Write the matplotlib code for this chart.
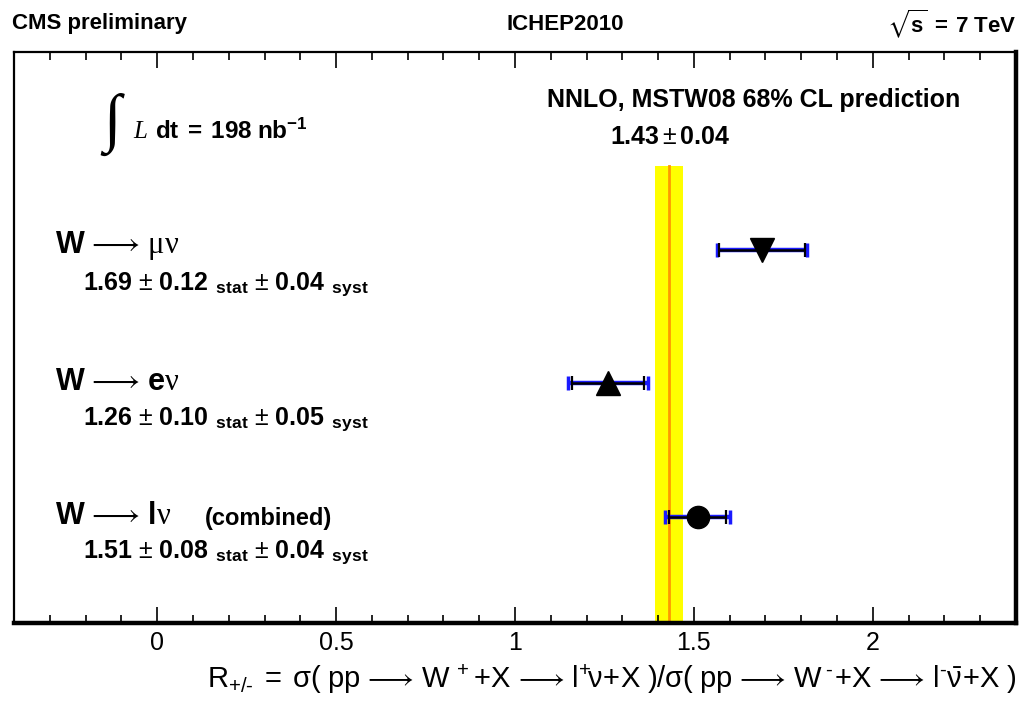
import numpy as np
import matplotlib
matplotlib.use("Agg")
import matplotlib.pyplot as plt

plt.rcParams["font.family"] = ["Liberation Sans", "DejaVu Sans"]
plt.rcParams["mathtext.fontset"] = "custom"
plt.rcParams["mathtext.rm"] = "Liberation Sans"
plt.rcParams["mathtext.it"] = "Liberation Serif:italic"
plt.rcParams["mathtext.bf"] = "Liberation Sans:bold"
plt.rcParams["mathtext.sf"] = "Liberation Serif"
plt.rcParams["mathtext.fallback"] = "stix"

# W+/W- cross-section ratio measurements
channels = ["mu", "e", "combined"]
ratio = [1.69, 1.26, 1.51]
err_stat = [0.12, 0.10, 0.08]
err_syst = [0.04, 0.05, 0.04]
ypos = [0.653, 0.420, 0.186]
markers = ["v", "^", "o"]
marker_sizes = [17, 17, 16]

# NNLO MSTW08 prediction
pred_central = 1.43
pred_err = 0.04

W, H = 1027, 703
fig = plt.figure(figsize=(W / 100, H / 100), dpi=100)
ax = fig.add_axes([14 / W, 1 - 623 / H, (1016 - 14) / W, (623 - 52) / H])


def fpos(x, y):
    return x / W, 1 - y / H


err_tot = np.hypot(err_stat, err_syst)

# prediction band
ax.fill_betweenx([0, 0.80], pred_central - pred_err, pred_central + pred_err,
                 color="#ffff00", lw=0, zorder=1)
ax.plot([pred_central, pred_central], [0, 0.80], color="#ff9900", lw=2, zorder=2)

for x, y, es, et, m, ms in zip(ratio, ypos, err_stat, err_tot, markers, marker_sizes):
    ax.errorbar(x, y, xerr=et, fmt="none", ecolor="#1a1aff", elinewidth=3.2,
                capsize=5, capthick=2.5, zorder=3)
    ax.errorbar(x, y, xerr=es, fmt="none", ecolor="black", elinewidth=1.8,
                capsize=5, capthick=1.6, zorder=4)
    ax.plot(x, y, marker=m, ms=ms, color="black", zorder=5)

ax.set_xlim(-0.4, 2.4)
ax.set_ylim(0, 1)
ax.set_yticks([])
ax.set_xticks([0, 0.5, 1, 1.5, 2])
ax.set_xticklabels(["0", "0.5", "1", "1.5", "2"])
ax.set_xticks(np.arange(-0.3, 2.4, 0.1), minor=True)
ax.tick_params(axis="x", which="both", direction="in", top=True, width=1.2,
               labelsize=18, pad=6)
ax.tick_params(axis="x", which="major", length=11.5)
ax.tick_params(axis="x", which="minor", length=5.5)
for side in ["top", "left"]:
    ax.spines[side].set_linewidth(1.6)
for side in ["bottom", "right"]:
    ax.spines[side].set_linewidth(3.2)

arrow = r"\,\longrightarrow\,"
ax.set_xlabel(r"$\mathregular{R_{+/\text{-}}\ =\ \sigma(\ pp" + arrow + r"W^{\ +}\!+\!X" + arrow
              + r"l^{+}\!\nu\!+\!X\ )/\sigma(\ pp" + arrow + r"W^{\ \text{-}}\!+\!X" + arrow
              + r"l^{\text{-}}\bar{\nu}\!+\!X\ )}$",
              fontsize=21, loc="right", labelpad=5)

# header
fig.text(*fpos(12, 24), "CMS preliminary", fontsize=16, fontweight="bold", va="center", ha="left")
fig.text(*fpos(565, 24), "ICHEP2010", fontsize=16, fontweight="bold", va="center", ha="center")
fig.text(*fpos(1016, 24), r"$\sqrt{\mathbf{s}}\ \mathbf{=\ 7\ TeV}$", fontsize=16, va="center", ha="right")

# luminosity
fig.text(*fpos(112, 124), "\u222b", fontsize=46, family="Liberation Serif", va="center", ha="center")
fig.text(*fpos(133, 131), r"$\mathit{L}$", fontsize=18, va="center", ha="left")
fig.text(*fpos(155, 131), r"$\mathbf{dt\ =\ 198\ nb^{-1}}$", fontsize=17.5, va="center", ha="left")

# prediction label
fig.text(*fpos(754, 100), "NNLO, MSTW08 68% CL prediction", fontsize=18, fontweight="bold",
         va="center", ha="center")
fig.text(*fpos(670, 137), r"$\mathbf{1.43} \pm \mathbf{0.04}$", fontsize=18,
         va="center", ha="center")

# channel labels
titles = [r"$\mathbf{W}" + arrow + r"\mathsf{\mu\nu}$",
          r"$\mathbf{W}" + arrow + r"\mathbf{e}\mathsf{\nu}$",
          r"$\mathbf{W}" + arrow + r"\mathbf{l}\mathsf{\nu}$"]
title_y = [245, 382, 516]
for t, ty in zip(titles, title_y):
    fig.text(*fpos(55, ty), t, fontsize=22, va="center", ha="left")
fig.text(*fpos(205, 518), "(combined)", fontsize=17, fontweight="bold", va="center", ha="left")

num_y = [285, 420, 553]
for v, s, sy, ny in zip(ratio, err_stat, err_syst, num_y):
    fig.text(*fpos(83, ny),
             r"$\mathbf{%.2f}\,\pm\,\mathbf{%.2f}_{\ \ \mathbf{stat}}\,\pm\,\mathbf{%.2f}_{\ \ \mathbf{syst}}$" % (v, s, sy),
             fontsize=18, va="center", ha="left")

fig.savefig("out.png", dpi=100)
